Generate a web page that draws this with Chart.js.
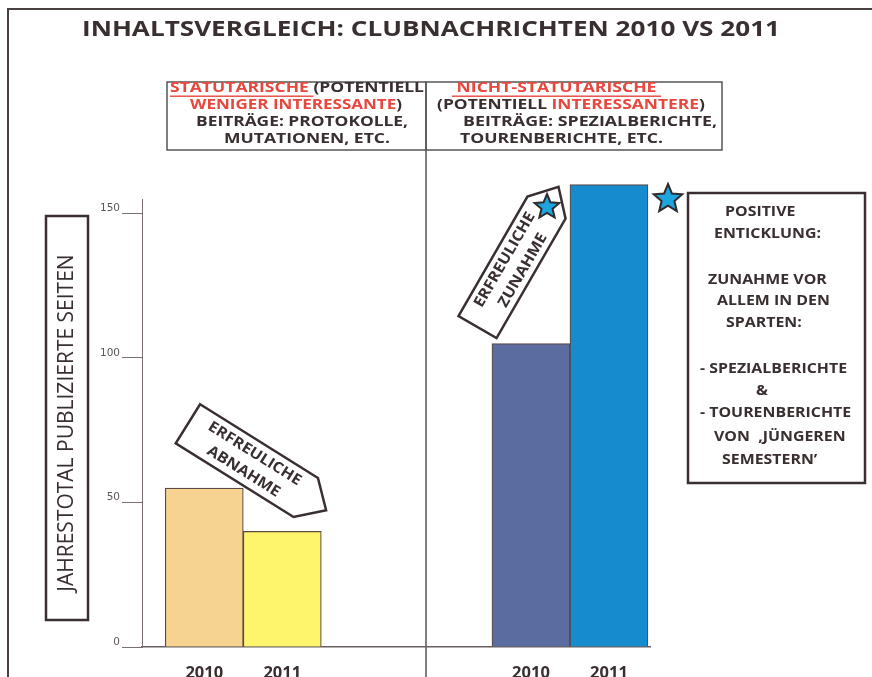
<!DOCTYPE html>
<html>
<head>
<meta charset="utf-8">
<script src="https://cdn.jsdelivr.net/npm/chart.js@4.4.1/dist/chart.umd.min.js"></script>
<style>
  html, body { margin: 0; padding: 0; background: #fff; }
  #wrap { width: 872px; height: 677px; }
</style>
</head>
<body>
<div id="wrap"><canvas id="chart" width="872" height="677"></canvas></div>
<script>
// values
const groups = ['STATUTARISCHE', 'NICHT-STATUTARISCHE'];
const years = ['2010', '2011'];
const pages2010 = [55, 105];
const pages2011 = [40, 160];
const yTicks = [0, 50, 100, 150];
const colors2010 = ['#f6d390', '#5b6da0'];
const colors2011 = ['#fff56d', '#168ccf'];

const ink = '#3a2f30';
const red = '#e8473e';
const bold = 'bold 15px "Open Sans"';

// header lines: left x, middle y, width in the scan, [text, color, underline]
const headLeft = [
  [170, 88, 254, [['STATUTARISCHE ', red, true], ['(POTENTIELL', ink]]],
  [190, 105, 212, [['WENIGER INTERESSANTE', red], [')', ink]]],
  [196, 122, 212, [['BEITRÄGE: PROTOKOLLE,', ink]]],
  [224, 139, 166, [['MUTATIONEN, ETC.', ink]]]
];
const headRight = [
  [452, 88, 209, [[' NICHT-STATUTARISCHE ', red, true]]],
  [437, 105, 268, [['(POTENTIELL ', ink], ['INTERESSANTERE', red], [')', ink]]],
  [463, 122, 254, [['BEITRÄGE: SPEZIALBERICHTE,', ink]]],
  [460, 139, 203, [['TOURENBERICHTE, ETC.', ink]]]
];
const noteLines = [
  ['POSITIVE', 725, 212], ['ENTICKLUNG:', 714, 234],
  ['ZUNAHME VOR', 708, 280], ['ALLEM IN DEN', 717, 301], ['SPARTEN:', 726, 323],
  ['- SPEZIALBERICHTE', 700, 369], ['&', 756, 391], ['- TOURENBERICHTE', 700, 413],
  ['VON  \u201AJÜNGEREN', 714, 437], ['SEMESTERN\u2019', 722, 460]
];

// the scan is stretched sideways, so text is drawn with a horizontal scale
function wideText(ctx, text, x, y, sx) {
  ctx.save();
  ctx.translate(x, y);
  ctx.scale(sx, 1);
  ctx.fillText(text, 0, 0);
  ctx.restore();
}

function drawSegments(ctx, x, y, width, segs) {
  ctx.font = bold;
  ctx.textBaseline = 'middle';
  ctx.textAlign = 'left';
  const total = segs.reduce((t, s) => t + ctx.measureText(s[0]).width, 0);
  ctx.save();
  ctx.translate(x, y);
  ctx.scale(width / total, 1);
  let cx = 0;
  segs.forEach(s => {
    const w = ctx.measureText(s[0]).width;
    ctx.fillStyle = s[1];
    ctx.fillText(s[0], cx, 0);
    if (s[2]) {
      ctx.fillRect(cx, 7.5, w, 1.4);
    }
    cx += w;
  });
  ctx.restore();
}

function drawStar(ctx, cx, cy, r) {
  ctx.beginPath();
  for (let i = 0; i < 10; i++) {
    const rr = i % 2 ? r * 0.45 : r;
    const a = -Math.PI / 2 + i * Math.PI / 5;
    ctx.lineTo(cx + rr * Math.cos(a), cy + rr * Math.sin(a));
  }
  ctx.closePath();
  ctx.fillStyle = '#1ea5de';
  ctx.fill();
  ctx.strokeStyle = '#2e2a2e';
  ctx.lineWidth = 2;
  ctx.stroke();
}

function drawTag(ctx, cx, cy, deg, len, h, tip, lines) {
  ctx.save();
  ctx.translate(cx, cy);
  ctx.rotate(deg * Math.PI / 180);
  ctx.beginPath();
  ctx.moveTo(-len / 2, -h / 2);
  ctx.lineTo(len / 2 - tip, -h / 2);
  ctx.lineTo(len / 2, 0);
  ctx.lineTo(len / 2 - tip, h / 2);
  ctx.lineTo(-len / 2, h / 2);
  ctx.closePath();
  ctx.fillStyle = '#fff';
  ctx.fill();
  ctx.strokeStyle = ink;
  ctx.lineWidth = 2.5;
  ctx.stroke();
  ctx.fillStyle = ink;
  ctx.font = 'bold 15px "Open Sans"';
  ctx.textAlign = 'center';
  ctx.textBaseline = 'middle';
  wideText(ctx, lines[0], -9, -10, 1.08);
  wideText(ctx, lines[1], -9, 11, 1.08);
  ctx.restore();
}

const decorations = {
  id: 'decorations',
  beforeDraw(chart) {
    const ctx = chart.ctx;
    ctx.save();
    ctx.fillStyle = '#fff';
    ctx.fillRect(0, 0, chart.width, chart.height);
    // page frame
    ctx.strokeStyle = '#4a4040';
    ctx.lineWidth = 2;
    ctx.beginPath();
    ctx.moveTo(872, 9); ctx.lineTo(8, 9); ctx.lineTo(8, 677);
    ctx.stroke();
    // title, stretched to the scan's width
    ctx.fillStyle = ink;
    ctx.font = 'bold 21px "Open Sans"';
    ctx.textAlign = 'center';
    ctx.textBaseline = 'middle';
    const title = 'INHALTSVERGLEICH: CLUBNACHRICHTEN 2010 VS 2011';
    wideText(ctx, title, 431, 30, 698 / ctx.measureText(title).width);
    // header boxes and divider
    ctx.strokeStyle = '#555';
    ctx.lineWidth = 1.5;
    ctx.strokeRect(167, 82, 259, 68);
    ctx.strokeRect(426, 82, 296, 68);
    ctx.beginPath();
    ctx.moveTo(426, 150); ctx.lineTo(426, 677);
    ctx.stroke();
    headLeft.forEach(l => drawSegments(ctx, l[0], l[1], l[2], l[3]));
    headRight.forEach(l => drawSegments(ctx, l[0], l[1], l[2], l[3]));
    // box around y axis title
    ctx.strokeStyle = ink;
    ctx.lineWidth = 2.5;
    ctx.strokeRect(46, 216, 42, 404);
    // note box
    ctx.strokeRect(688, 193, 177, 290);
    ctx.fillStyle = ink;
    ctx.font = 'bold 15px "Open Sans"';
    ctx.textAlign = 'left';
    ctx.textBaseline = 'middle';
    noteLines.forEach(l => wideText(ctx, l[0], l[1], l[2], 1.06));
    ctx.restore();
  },
  afterDatasetsDraw(chart) {
    const ctx = chart.ctx;
    ctx.save();
    // year labels under each bar
    ctx.fillStyle = ink;
    ctx.font = 'bold 16.5px "Open Sans"';
    ctx.textAlign = 'center';
    ctx.textBaseline = 'middle';
    chart.data.datasets.forEach((ds, i) => {
      chart.getDatasetMeta(i).data.forEach(bar => ctx.fillText(ds.label, bar.x, 673));
    });
    drawTag(ctx, 257, 467, 32, 163, 46, 24, ['ERFREULICHE', 'ABNAHME']);
    drawTag(ctx, 518, 257, -60, 162, 44, 24, ['ERFREULICHE', 'ZUNAHME']);
    drawStar(ctx, 547, 207, 13);
    drawStar(ctx, 668, 199, 15);
    ctx.restore();
  }
};

new Chart(document.getElementById('chart'), {
  type: 'bar',
  data: {
    datasets: [{
      label: years[0],
      data: groups.map((g, i) => ({ x: i, y: pages2010[i] })),
      backgroundColor: colors2010,
      borderColor: '#5a4a48',
      borderWidth: 1.2,
      barThickness: 78,
      clip: false
    }, {
      label: years[1],
      data: groups.map((g, i) => ({ x: i, y: pages2011[i] })),
      backgroundColor: colors2011,
      borderColor: '#5a4a48',
      borderWidth: 1.2,
      barThickness: 78,
      clip: false
    }]
  },
  options: {
    responsive: false,
    animation: false,
    events: [],
    layout: {
      padding: { left: 46, right: 222, top: 199, bottom: 0 }
    },
    scales: {
      x: {
        type: 'linear',
        offset: false,
        min: -0.31,
        max: 1.245,
        ticks: { display: false },
        grid: { drawOnChartArea: false, drawTicks: false },
        border: { color: '#6a6060', width: 1.5 },
        afterFit: s => { s.height = 30; }
      },
      y: {
        min: 0,
        max: 155,
        afterBuildTicks: s => { s.ticks = yTicks.map(v => ({ value: v })); },
        ticks: {
          color: '#5e5656',
          font: { family: 'DejaVu Sans', size: 10.5 },
          padding: 2,
          labelOffset: -5
        },
        grid: { drawOnChartArea: false, tickLength: 20, tickColor: '#7a7070' },
        border: { color: '#7a7070', width: 1 },
        title: {
          display: true,
          text: 'JAHRESTOTAL PUBLIZIERTE SEITEN',
          color: ink,
          font: { family: 'Open Sans', size: 21 },
          padding: { top: 8, bottom: 0 }
        },
        afterFit: s => { s.width = 96; }
      }
    },
    plugins: {
      legend: { display: false },
      tooltip: { enabled: false }
    }
  },
  plugins: [decorations]
});
</script>
</body>
</html>
